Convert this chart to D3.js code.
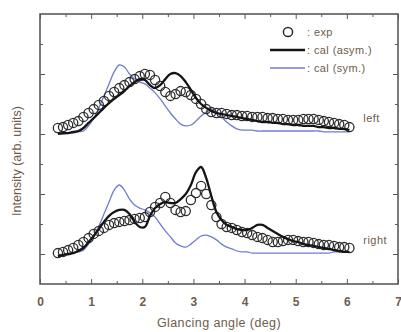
<!DOCTYPE html>
<html>
<head>
<meta charset="utf-8">
<script src="https://cdn.jsdelivr.net/npm/d3@7"></script>
<style>
  html, body { margin: 0; padding: 0; background: #fff; }
  svg { display: block; font-family: "Liberation Sans", Arial, sans-serif; }
</style>
</head>
<body>
<div id="root"></div>
<script>
const WIDTH = 401
const HEIGHT = 332
const MARGIN = { top: 14, right: 3, bottom: 48, left: 40 }

const TEXT_COLOR = '#6e5c4c'
const AXIS_COLOR = '#5a5a5a'
const EXP_COLOR = '#2e2e2e'
const ASYM_COLOR = '#141414'
const SYM_COLOR = '#6d7cd2'

// glancing angle (deg), shared by all six series
const angles = [
  0.35, 0.45, 0.55, 0.65, 0.75, 0.85, 0.95, 1.05, 1.15, 1.25,
  1.35, 1.45, 1.55, 1.65, 1.75, 1.85, 1.95, 2.05, 2.15, 2.25,
  2.35, 2.45, 2.55, 2.65, 2.75, 2.85, 2.95, 3.05, 3.15, 3.25,
  3.35, 3.45, 3.55, 3.65, 3.75, 3.85, 3.95, 4.05, 4.15, 4.25,
  4.35, 4.45, 4.55, 4.65, 4.75, 4.85, 4.95, 5.05, 5.15, 5.25,
  5.35, 5.45, 5.55, 5.65, 5.75, 5.85, 5.95, 6.05
]

// upper set ("left")
const leftExp = [
  5.20, 5.23, 5.30, 5.37, 5.43, 5.57, 5.70, 5.83, 5.97, 6.10,
  6.27, 6.40, 6.53, 6.63, 6.73, 6.83, 6.93, 7.00, 6.97, 6.80,
  6.60, 6.40, 6.27, 6.33, 6.43, 6.40, 6.30, 6.17, 6.00, 5.83,
  5.73, 5.70, 5.70, 5.67, 5.63, 5.63, 5.60, 5.60, 5.57, 5.57,
  5.57, 5.53, 5.53, 5.50, 5.50, 5.47, 5.47, 5.47, 5.50, 5.50,
  5.50, 5.47, 5.43, 5.40, 5.37, 5.33, 5.30, 5.23
]
const leftAsym = [
  5.00, 5.03, 5.03, 5.07, 5.10, 5.20, 5.37, 5.53, 5.70, 5.87,
  6.03, 6.17, 6.30, 6.43, 6.60, 6.73, 6.83, 6.80, 6.63, 6.53,
  6.63, 6.83, 7.00, 7.03, 6.93, 6.73, 6.47, 6.20, 6.00, 5.87,
  5.77, 5.70, 5.67, 5.63, 5.60, 5.57, 5.53, 5.50, 5.47, 5.43,
  5.40, 5.40, 5.37, 5.37, 5.33, 5.33, 5.30, 5.30, 5.27, 5.27,
  5.27, 5.23, 5.23, 5.20, 5.20, 5.17, 5.17, 5.13
]
const leftSym = [
  5.00, 5.00, 5.03, 5.03, 5.07, 5.10, 5.27, 5.53, 5.87, 6.27,
  6.67, 7.07, 7.30, 7.23, 7.00, 6.83, 6.73, 6.67, 6.53, 6.37,
  6.17, 5.93, 5.70, 5.50, 5.33, 5.27, 5.30, 5.43, 5.60, 5.73,
  5.80, 5.73, 5.57, 5.40, 5.27, 5.17, 5.13, 5.13, 5.13, 5.10,
  5.10, 5.10, 5.10, 5.10, 5.10, 5.10, 5.10, 5.10, 5.10, 5.10,
  5.10, 5.10, 5.07, 5.07, 5.07, 5.07, 5.07, 5.07
]

// lower set ("right")
const rightExp = [
  1.03, 1.07, 1.13, 1.20, 1.30, 1.40, 1.53, 1.67, 1.77, 1.87,
  1.97, 2.03, 2.07, 2.10, 2.13, 2.17, 2.20, 2.23, 2.40, 2.57,
  2.70, 2.90, 2.70, 2.47, 2.40, 2.43, 2.80, 3.03, 3.27, 3.00,
  2.63, 2.23, 2.00, 1.90, 1.87, 1.80, 1.73, 1.70, 1.63, 1.57,
  1.53, 1.47, 1.40, 1.40, 1.43, 1.47, 1.47, 1.43, 1.40, 1.40,
  1.37, 1.33, 1.30, 1.30, 1.27, 1.23, 1.23, 1.20
]
const rightAsym = [
  0.93, 0.97, 1.00, 1.03, 1.10, 1.20, 1.40, 1.60, 1.83, 2.07,
  2.27, 2.40, 2.47, 2.47, 2.33, 2.07, 1.90, 1.90, 2.27, 2.53,
  2.67, 2.73, 2.70, 2.70, 2.83, 3.00, 3.30, 3.73, 3.90, 3.53,
  2.93, 2.40, 2.13, 1.97, 1.90, 1.83, 1.80, 1.80, 1.87, 1.97,
  1.97, 1.87, 1.77, 1.67, 1.57, 1.50, 1.43, 1.40, 1.33, 1.30,
  1.27, 1.23, 1.20, 1.17, 1.13, 1.10, 1.07, 1.07
]
const rightSym = [
  0.97, 0.97, 1.00, 1.03, 1.07, 1.13, 1.33, 1.60, 1.93, 2.33,
  2.73, 3.13, 3.30, 3.13, 2.83, 2.63, 2.53, 2.47, 2.37, 2.23,
  2.00, 1.77, 1.57, 1.37, 1.27, 1.23, 1.33, 1.47, 1.60, 1.63,
  1.57, 1.47, 1.33, 1.23, 1.17, 1.10, 1.07, 1.07, 1.03, 1.03,
  1.03, 1.03, 1.03, 1.03, 1.03, 1.03, 1.03, 1.03, 1.03, 1.03,
  1.03, 1.03, 1.03, 1.03, 1.07, 1.07, 1.07, 1.07
]

const xTicks = [0, 1, 2, 3, 4, 5, 6, 7]
const xMinorTicks = [0.5, 1.5, 2.5, 3.5, 4.5, 5.5, 6.5]
const yTicks = [1, 3, 5, 7]
const yMinorTicks = [2, 4, 6, 8]

const legendData = [
  { label: ': exp', type: 'circle' },
  { label: ': cal (asym.)', type: 'asym' },
  { label: ': cal (sym.)', type: 'sym' }
]
const setLabels = [
  { label: 'left', y: 5.53 },
  { label: 'right', y: 1.47 }
]

const xScale = d3.scaleLinear()
  .domain([0, 7])
  .range([MARGIN.left, WIDTH - MARGIN.right])

const yScale = d3.scaleLinear()
  .domain([0, 9])
  .range([HEIGHT - MARGIN.bottom, MARGIN.top])

const svg = d3.select('#root')
  .append('svg')
  .attr('width', WIDTH)
  .attr('height', HEIGHT)

const bottom = HEIGHT - MARGIN.bottom
const right = WIDTH - MARGIN.right

function styleAxis(g) {
  g.select('.domain').remove()
  g.selectAll('.tick line').attr('stroke', AXIS_COLOR).attr('stroke-width', 1)
  g.selectAll('.tick text')
    .attr('fill', TEXT_COLOR)
    .style('font-size', '12px')
    .style('font-weight', 'bold')
}

// bottom axis with labels
svg.append('g')
  .attr('transform', `translate(0, ${bottom})`)
  .call(d3.axisBottom(xScale).tickValues(xTicks).tickSizeInner(-5).tickPadding(13).tickFormat(d3.format('d')))
  .call(styleAxis)
svg.append('g')
  .attr('transform', `translate(0, ${bottom})`)
  .call(d3.axisBottom(xScale).tickValues(xMinorTicks).tickSizeInner(-3).tickFormat(''))
  .call(styleAxis)

// top axis, ticks only
svg.append('g')
  .attr('transform', `translate(0, ${MARGIN.top})`)
  .call(d3.axisTop(xScale).tickValues(xTicks).tickSizeInner(-5).tickFormat(''))
  .call(styleAxis)
svg.append('g')
  .attr('transform', `translate(0, ${MARGIN.top})`)
  .call(d3.axisTop(xScale).tickValues(xMinorTicks).tickSizeInner(-3).tickFormat(''))
  .call(styleAxis)

// left and right, ticks only
svg.append('g')
  .attr('transform', `translate(${MARGIN.left}, 0)`)
  .call(d3.axisLeft(yScale).tickValues(yTicks).tickSizeInner(-5).tickFormat(''))
  .call(styleAxis)
svg.append('g')
  .attr('transform', `translate(${MARGIN.left}, 0)`)
  .call(d3.axisLeft(yScale).tickValues(yMinorTicks).tickSizeInner(-3).tickFormat(''))
  .call(styleAxis)
svg.append('g')
  .attr('transform', `translate(${right}, 0)`)
  .call(d3.axisRight(yScale).tickValues(yTicks).tickSizeInner(-5).tickFormat(''))
  .call(styleAxis)
svg.append('g')
  .attr('transform', `translate(${right}, 0)`)
  .call(d3.axisRight(yScale).tickValues(yMinorTicks).tickSizeInner(-3).tickFormat(''))
  .call(styleAxis)

// frame
svg.append('rect')
  .attr('x', MARGIN.left)
  .attr('y', MARGIN.top)
  .attr('width', right - MARGIN.left)
  .attr('height', bottom - MARGIN.top)
  .attr('fill', 'none')
  .attr('stroke', AXIS_COLOR)
  .attr('stroke-width', 1.6)

// axis titles
svg.append('text')
  .attr('x', (MARGIN.left + right) / 2)
  .attr('y', 327)
  .attr('text-anchor', 'middle')
  .attr('fill', TEXT_COLOR)
  .style('font-size', '12.5px')
  .style('letter-spacing', '0.4px')
  .text('Glancing angle (deg)')

svg.append('text')
  .attr('transform', `translate(21, ${(MARGIN.top + bottom) / 2 + 12}) rotate(-90)`)
  .attr('text-anchor', 'middle')
  .attr('fill', TEXT_COLOR)
  .style('font-size', '12.5px')
  .text('Intensity (arb. units)')

const line = d3.line()
  .x((d) => xScale(d[0]))
  .y((d) => yScale(d[1]))
  .curve(d3.curveCatmullRom)

const pair = (values) => angles.map((a, i) => [a, values[i]])

const plot = svg.append('g')

;[leftSym, rightSym].forEach((values) => {
  plot.append('path')
    .datum(pair(values))
    .attr('d', line)
    .attr('fill', 'none')
    .attr('stroke', SYM_COLOR)
    .attr('stroke-width', 1.3)
})

;[leftExp, rightExp].forEach((values) => {
  plot.append('g')
    .selectAll('circle')
    .data(pair(values))
    .enter()
    .append('circle')
    .attr('cx', (d) => xScale(d[0]))
    .attr('cy', (d) => yScale(d[1]))
    .attr('r', 4.6)
    .attr('fill', 'none')
    .attr('stroke', EXP_COLOR)
    .attr('stroke-width', 1.3)
})

;[leftAsym, rightAsym].forEach((values) => {
  plot.append('path')
    .datum(pair(values))
    .attr('d', line)
    .attr('fill', 'none')
    .attr('stroke', ASYM_COLOR)
    .attr('stroke-width', 2.3)
})

// set labels
svg.selectAll('.set-label')
  .data(setLabels)
  .enter()
  .append('text')
  .attr('class', 'set-label')
  .attr('x', xScale(6.32))
  .attr('y', (d) => yScale(d.y))
  .attr('dy', '0.35em')
  .attr('fill', TEXT_COLOR)
  .style('font-size', '11px')
  .style('letter-spacing', '0.5px')
  .text((d) => d.label)

// legend
const LEGEND_X = 307
const LEGEND_Y = 32
const LEGEND_STEP = 18

const legend = svg.append('g')
  .selectAll('g')
  .data(legendData)
  .enter()
  .append('g')
  .attr('transform', (_, i) => `translate(${LEGEND_X}, ${LEGEND_Y + i * LEGEND_STEP})`)

legend.filter((d) => d.type === 'circle')
  .append('circle')
  .attr('cx', -19)
  .attr('r', 4.6)
  .attr('fill', 'none')
  .attr('stroke', EXP_COLOR)
  .attr('stroke-width', 1.5)

legend.filter((d) => d.type !== 'circle')
  .append('line')
  .attr('x1', -37)
  .attr('x2', -2)
  .attr('stroke', (d) => d.type === 'asym' ? ASYM_COLOR : SYM_COLOR)
  .attr('stroke-width', (d) => d.type === 'asym' ? 2.3 : 1.3)

legend.append('text')
  .attr('dy', '0.35em')
  .attr('fill', TEXT_COLOR)
  .style('font-size', '11px')
  .style('letter-spacing', '0.4px')
  .text((d) => d.label)
</script>
</body>
</html>
